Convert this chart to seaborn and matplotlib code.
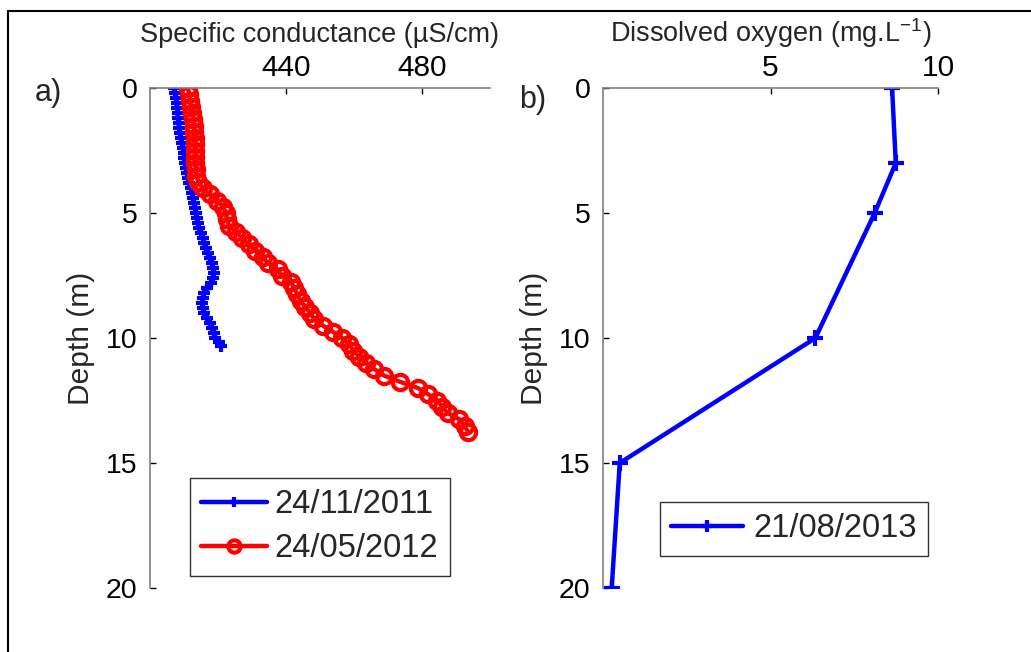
import numpy as np
import pandas as pd
import matplotlib
matplotlib.use("Agg")
import matplotlib.pyplot as plt
from matplotlib.lines import Line2D
import seaborn as sns

# ---- data ----
blue_depth = [0.0, 0.2, 0.4, 0.6, 0.8, 1.0, 1.2, 1.4, 1.6, 1.8, 2.0, 2.2, 2.4, 2.6, 2.8,
              3.0, 3.2, 3.4, 3.6, 3.8, 4.0, 4.2, 4.4, 4.6, 4.8, 5.0, 5.2, 5.4, 5.6, 5.8,
              6.0, 6.2, 6.4, 6.6, 6.8, 7.0, 7.2, 7.4, 7.6, 7.8, 8.0, 8.2, 8.4, 8.6, 8.8,
              9.0, 9.2, 9.4, 9.6, 9.8, 10.0, 10.15, 10.3]
blue_cond = [407.2, 407.4, 407.6, 407.8, 408.0, 408.1, 408.2, 408.4, 408.6, 408.9, 409.1,
             409.4, 409.6, 409.9, 410.1, 410.3, 410.6, 410.9, 411.2, 411.6, 412.0, 412.4,
             412.7, 413.0, 413.3, 413.6, 413.9, 414.1, 414.5, 414.9, 415.5, 416.0, 416.4,
             417.0, 417.5, 418.2, 418.5, 418.8, 418.6, 417.8, 416.8, 416.0, 415.6, 415.4,
             415.6, 416.0, 416.8, 417.6, 418.3, 418.8, 419.2, 420.3, 421.0]

red_depth = [0.0, 0.25, 0.5, 0.75, 1.0, 1.25, 1.5, 1.75, 2.0, 2.25, 2.5, 2.75, 3.0, 3.25,
             3.5, 3.75, 4.0, 4.25, 4.5, 4.75, 5.0, 5.25, 5.5, 5.75, 6.0, 6.25, 6.5, 6.75,
             7.0, 7.25, 7.5, 7.75, 8.0, 8.25, 8.5, 8.75, 9.0, 9.25, 9.5, 9.75, 10.0, 10.25,
             10.5, 10.75, 11.0, 11.25, 11.5, 11.75, 12.0, 12.25, 12.5, 12.75, 13.0, 13.25,
             13.5, 13.75]
red_cond = [411.2, 411.5, 411.8, 412.1, 412.4, 412.6, 412.9, 413.0, 413.2, 413.2, 413.3,
            413.2, 413.3, 413.4, 413.6, 414.2, 415.5, 417.6, 419.8, 421.5, 422.4, 422.6,
            423.2, 425.4, 427.0, 429.0, 431.0, 433.2, 434.6, 437.5, 438.7, 441.5, 442.4,
            443.3, 444.3, 445.6, 447.2, 448.3, 450.8, 453.8, 456.5, 458.6, 459.8, 461.6,
            463.6, 466.0, 468.8, 473.5, 478.8, 481.8, 484.5, 486.0, 487.5, 491.0, 492.5,
            493.5]

do_depth = [0, 3, 5, 10, 15, 20]
do_value = [8.63, 8.74, 8.11, 6.34, 0.50, 0.26]

labels_a = ["24/11/2011", "24/05/2012"]
label_b = "21/08/2013"
depth_ticks = [0, 5, 10, 15, 20]
cond_ticks = [440, 480]
do_ticks = [5, 10]

# ---- style ----
sns.set_style("white")
plt.rcParams["font.family"] = ["Liberation Sans", "DejaVu Sans"]
plt.rcParams["mathtext.fontset"] = "custom"
plt.rcParams["mathtext.rm"] = "Liberation Sans"

W, H = 1031, 652
fig = plt.figure(figsize=(W / 100, H / 100), dpi=100)
fig.patch.set_facecolor("white")

def px_axes(x0, x1, y0, y1):
    return fig.add_axes([x0 / W, 1 - y1 / H, (x1 - x0) / W, (y1 - y0) / H])

ax1 = px_axes(150, 490, 88, 588)
ax2 = px_axes(603, 938, 88, 588)

df_b = pd.DataFrame({"cond": blue_cond, "depth": blue_depth})
df_r = pd.DataFrame({"cond": red_cond, "depth": red_depth})
df_o = pd.DataFrame({"do": do_value, "depth": do_depth})

BLUE = "#0000ff"
RED = "#ff0000"

sns.lineplot(data=df_b, x="cond", y="depth", sort=False, estimator=None, ax=ax1,
             color=BLUE, lw=3.2, marker="+", markersize=9, mew=3,
             markeredgecolor=BLUE, markerfacecolor=BLUE, label=labels_a[0])
sns.lineplot(data=df_r, x="cond", y="depth", sort=False, estimator=None, ax=ax1,
             color=RED, lw=3.2, marker="o", markersize=11, mew=3,
             markerfacecolor="none", markeredgecolor=RED, label=labels_a[1])
sns.lineplot(data=df_o, x="do", y="depth", sort=False, estimator=None, ax=ax2,
             color=BLUE, lw=3.2, marker="+", markersize=11, mew=3,
             markeredgecolor=BLUE, markerfacecolor=BLUE, label=label_b)

for ax, xlim, xt in [(ax1, (400, 500), cond_ticks), (ax2, (0, 10), do_ticks)]:
    ax.set_xlim(*xlim)
    ax.set_ylim(20, 0)
    ax.set_xticks(xt)
    ax.set_yticks(depth_ticks)
    ax.xaxis.tick_top()
    ax.xaxis.set_label_position("top")
    for s in ["right", "bottom"]:
        ax.spines[s].set_visible(False)
    for s in ["top", "left"]:
        ax.spines[s].set_color("#808080")
        ax.spines[s].set_linewidth(1.2)
    ax.tick_params(axis="x", direction="in", length=4, width=1, colors="black",
                   labelsize=21.5, pad=4, top=True, bottom=False)
    ax.tick_params(axis="y", direction="in", length=4, width=1, colors="black",
                   labelsize=20.5, pad=9, left=True, right=False)
    ax.set_ylabel("Depth (m)", fontsize=21.5, labelpad=8)
    ax.set_facecolor("white")

ax1.set_xlabel("Specific conductance (µS/cm)", fontsize=19.5, labelpad=9)
ax2.set_xlabel(r"Dissolved oxygen (mg.L$^{\mathregular{-1}}$)", fontsize=19.5, labelpad=9)

leg1 = ax1.legend(loc="upper left", bbox_to_anchor=(190 / W, 1 - 478 / H),
                  bbox_transform=fig.transFigure, fontsize=23.5, frameon=True,
                  fancybox=False, edgecolor="black", handlelength=2.0,
                  handletextpad=0.25, borderpad=0.35, labelspacing=0.4,
                  borderaxespad=0, markerscale=0.8)
leg1.get_frame().set_linewidth(1.0)
leg2 = ax2.legend(loc="upper left", bbox_to_anchor=(660 / W, 1 - 502 / H),
                  bbox_transform=fig.transFigure, fontsize=23.5, frameon=True,
                  fancybox=False, edgecolor="black", handlelength=2.2,
                  handletextpad=0.3, borderpad=0.35, borderaxespad=0, markerscale=0.8)
leg2.get_frame().set_linewidth(1.0)

fig.text(35 / W, 1 - 93 / H, "a)", fontsize=22, va="center", ha="left")
fig.text(519 / W, 1 - 100 / H, "b)", fontsize=22, va="center", ha="left")

# outer frame
fig.add_artist(Line2D([8 / W, 1.0], [1 - 11 / H, 1 - 11 / H], transform=fig.transFigure,
                      color="black", lw=1.5))
fig.add_artist(Line2D([8 / W, 8 / W], [1 - 11 / H, 0.0], transform=fig.transFigure,
                      color="black", lw=1.5))

fig.savefig("out.png", dpi=100, facecolor="white")
